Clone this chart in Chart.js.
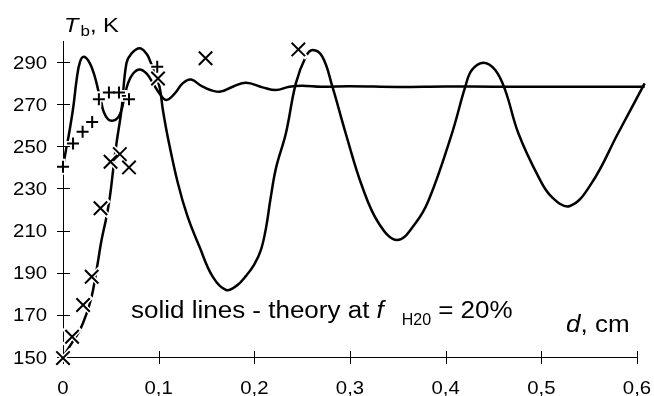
<!DOCTYPE html>
<html>
<head>
<meta charset="utf-8">
<script src="https://cdn.jsdelivr.net/npm/chart.js@4/dist/chart.umd.min.js"></script>
<style>
  html, body { margin: 0; padding: 0; background: #fff; }
</style>
</head>
<body>
<canvas id="chart" width="654" height="396"></canvas>
<script>
// theory curve that settles near 278 K (d in cm, Tb in K)
const dA = [0, 0.003, 0.0063, 0.0108, 0.0142, 0.0177, 0.0219, 0.0281, 0.0333, 0.0368, 0.040, 0.0425, 0.0472,
    0.0524, 0.0576, 0.0611, 0.064, 0.068, 0.0733, 0.0802, 0.0872, 0.094, 0.101, 0.108, 0.1167, 0.1253, 0.134,
    0.146, 0.1635, 0.1774, 0.1913, 0.2087, 0.2226, 0.2365, 0.25, 0.27, 0.30, 0.35, 0.40, 0.45, 0.50, 0.55, 0.608];
const tA = [240, 248, 256, 268.8, 281.5, 290, 292.5, 289.4, 283, 276.7, 271, 266.5, 262.8,
    262.2, 263.7, 267.2, 273, 280, 284.6, 286.5, 284.6, 280, 275, 272, 275, 280, 281.7,
    278.3, 275.9, 278.3, 280.2, 278, 276.7, 278.3, 278.8, 278.3, 278.5, 278.2, 278.4, 278.3, 278.3, 278.3, 278.3];

// theory curve with the large oscillation
const dB = [0, 0.009, 0.0177, 0.0247, 0.0299, 0.0333, 0.0368, 0.0403, 0.0455, 0.049, 0.0524, 0.0559, 0.0611,
    0.0663, 0.0715, 0.0802, 0.0872, 0.0906, 0.096, 0.101, 0.1045, 0.1097, 0.1201, 0.130, 0.1427, 0.1566, 0.1705,
    0.182, 0.1913, 0.200, 0.207, 0.2125, 0.2167, 0.2228, 0.233, 0.2434, 0.2538, 0.2608, 0.2712, 0.2816, 0.2955,
    0.3128, 0.330, 0.3493, 0.3684, 0.3823, 0.4066, 0.4205, 0.4274, 0.4396, 0.4518, 0.4622, 0.476, 0.4969, 0.5108,
    0.5299, 0.5524, 0.5802, 0.608];
const tB = [150, 156.5, 162.8, 170.7, 178.6, 186.5, 196, 205.5, 216.6, 226, 238.7, 251.4, 267.2,
    289.4, 294, 296.5, 294, 291, 285, 278, 267, 254, 232.5, 217, 202.3, 188, 181.8,
    184, 188.5, 194, 201, 212, 224.5, 240, 256.2, 279.9, 292.5, 295.7, 292.5, 278.3, 256.2,
    230.8, 213.5, 205.5, 213.5, 224.5, 256.2, 278.3, 286.2, 289.7, 286.2, 276.7, 256.2, 235.6, 226,
    221.7, 232.4, 256.2, 279.9];

// measured points, "+" series
const plusD = [0, 0.0105, 0.0205, 0.0305, 0.0375, 0.048, 0.0585, 0.069, 0.0985];
const plusT = [240.3, 251.4, 256.9, 261.5, 272.3, 275.5, 275.5, 272.3, 287.8];

// measured points, "x" series
const crossD = [0, 0.0095, 0.021, 0.03, 0.0392, 0.0497, 0.0594, 0.069, 0.0993, 0.149, 0.246];
const crossT = [149.5, 159.6, 174.7, 188.1, 220.6, 242.7, 246.3, 240, 282.2, 291.8, 296];

const xTicks = [0, 0.1, 0.2, 0.3, 0.4, 0.5, 0.6];
const xLabels = ["0", "0,1", "0,2", "0,3", "0,4", "0,5", "0,6"];
const yTicks = [150, 170, 190, 210, 230, 250, 270, 290];

const FONT = "'Liberation Sans', Arial, sans-serif";

function pts(xs, ys) {
    return xs.map((x, i) => ({x: x, y: ys[i]}));
}

// text in the picture is a bit wider than plain Arial, so stretch it
function txt(ctx, s, x, y, size, opts) {
    opts = opts || {};
    const sx = opts.sx || 1.13;
    ctx.save();
    ctx.font = (opts.italic ? "italic " : "") + size + "px " + FONT;
    const w = ctx.measureText(s).width * sx;
    let x0 = x;
    if (opts.align === "right") x0 = x - w;
    else if (opts.align === "center") x0 = x - w / 2;
    ctx.translate(x0, y);
    ctx.scale(sx, 1);
    ctx.textAlign = "left";
    ctx.textBaseline = "alphabetic";
    ctx.fillStyle = "#000";
    ctx.fillText(s, 0, 0);
    ctx.restore();
    return x0 + w;
}

const axisDecor = {
    id: "axisDecor",
    beforeDatasetsDraw(chart) {
        const ctx = chart.ctx;
        const area = chart.chartArea;
        const xs = chart.scales.x, ys = chart.scales.y;
        ctx.save();
        ctx.strokeStyle = "#000";
        ctx.lineWidth = 1;
        ctx.beginPath();
        xTicks.forEach(v => {
            const px = Math.round(xs.getPixelForValue(v)) + 0.5;
            ctx.moveTo(px, area.bottom - 6);
            ctx.lineTo(px, area.bottom + 7);
        });
        yTicks.forEach(v => {
            const py = Math.round(ys.getPixelForValue(v)) + 0.5;
            ctx.moveTo(area.left - 6, py);
            ctx.lineTo(area.left + 7, py);
        });
        ctx.stroke();
        ctx.restore();
    },
    afterDraw(chart) {
        const ctx = chart.ctx;
        const xs = chart.scales.x, ys = chart.scales.y;
        xTicks.forEach((v, i) => {
            txt(ctx, xLabels[i], xs.getPixelForValue(v), 394, 18, {align: "center"});
        });
        yTicks.forEach(v => {
            txt(ctx, String(v), 47, ys.getPixelForValue(v) + 6.5, 18, {align: "right"});
        });

        // y title
        let x = txt(ctx, "T", 64, 32, 21, {italic: true});
        x = txt(ctx, "b", x + 2, 36, 15);
        txt(ctx, ", K", x, 32, 21);

        // x title
        x = txt(ctx, "d", 566, 332, 23, {italic: true});
        txt(ctx, ", cm", x, 332, 23);

        // note
        x = txt(ctx, "solid lines - theory at ", 131, 318, 23);
        x = txt(ctx, "f", x, 318, 23, {italic: true});
        x = txt(ctx, "H20", x + 18, 325, 16, {sx: 1.0});
        txt(ctx, "= 20%", x + 7, 318, 23);
    }
};

const curveStyle = {
    showLine: true,
    borderColor: "#000",
    borderWidth: 2.5,
    pointRadius: 0,
    tension: 0.4,
    clip: false,
    order: 2
};

new Chart(document.getElementById("chart"), {
    type: "scatter",
    data: {
        datasets: [
            Object.assign({data: pts(dA, tA)}, curveStyle),
            Object.assign({data: pts(dB, tB)}, curveStyle),
            // white halos so the curves break around the markers
            {data: pts(plusD, plusT), pointStyle: "cross", pointRadius: 8, pointBorderWidth: 5,
                borderColor: "#fff", backgroundColor: "#fff", clip: false, order: 1},
            {data: pts(crossD, crossT), pointStyle: "crossRot", pointRadius: 12, pointBorderWidth: 5,
                borderColor: "#fff", backgroundColor: "#fff", clip: false, order: 1},
            {data: pts(plusD, plusT), pointStyle: "cross", pointRadius: 6, pointBorderWidth: 2,
                borderColor: "#000", backgroundColor: "#000", clip: false, order: 0},
            {data: pts(crossD, crossT), pointStyle: "crossRot", pointRadius: 9.5, pointBorderWidth: 2,
                borderColor: "#000", backgroundColor: "#000", clip: false, order: 0}
        ]
    },
    options: {
        responsive: false,
        animation: false,
        devicePixelRatio: 1,
        layout: {padding: {top: 41, right: 15, left: 0, bottom: 0}},
        plugins: {legend: {display: false}, tooltip: {enabled: false}},
        scales: {
            x: {
                type: "linear",
                min: 0,
                max: 0.6,
                grid: {display: false},
                ticks: {display: false},
                border: {display: true, color: "#000", width: 1},
                afterFit: s => { s.height = 39; }
            },
            y: {
                type: "linear",
                min: 150,
                max: 300,
                grid: {display: false},
                ticks: {display: false},
                border: {display: true, color: "#000", width: 1},
                afterFit: s => { s.width = 63; }
            }
        }
    },
    plugins: [axisDecor]
});
</script>
</body>
</html>
